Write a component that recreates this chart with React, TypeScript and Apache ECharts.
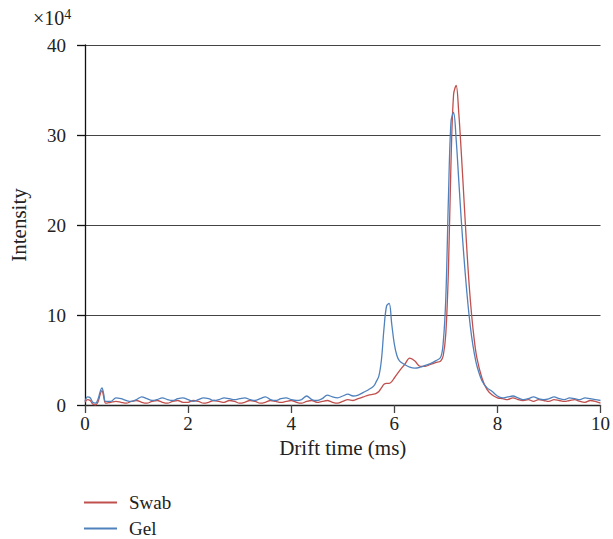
import React, { useEffect, useRef } from "react";
import * as echarts from "echarts";

const driftTime = [
  0, 0.05, 0.1, 0.15, 0.2, 0.25, 0.3, 0.33, 0.36, 0.4,
  0.5, 0.6, 0.7, 0.8, 0.9, 1.0, 1.1, 1.2, 1.3, 1.4, 1.5, 1.6, 1.7, 1.8, 1.9,
  2.0, 2.1, 2.2, 2.3, 2.4, 2.5, 2.6, 2.7, 2.8, 2.9,
  3.0, 3.1, 3.2, 3.3, 3.4, 3.5, 3.6, 3.7, 3.8, 3.9,
  4.0, 4.1, 4.2, 4.3, 4.4, 4.5, 4.6, 4.7, 4.8, 4.9,
  5.0, 5.1, 5.2, 5.3, 5.4, 5.5, 5.6, 5.65, 5.7, 5.75, 5.8, 5.85, 5.9, 5.95,
  6.0, 6.05, 6.1, 6.2, 6.3, 6.4, 6.5, 6.6, 6.7, 6.8, 6.9, 6.95,
  7.0, 7.05, 7.1, 7.15, 7.2, 7.25, 7.3, 7.35, 7.4, 7.45, 7.5, 7.55, 7.6, 7.7, 7.8, 7.9,
  8.0, 8.1, 8.2, 8.3, 8.4, 8.5, 8.6, 8.7, 8.8, 8.9,
  9.0, 9.1, 9.2, 9.3, 9.4, 9.5, 9.6, 9.7, 9.8, 9.9, 10.0,
];

// Intensity in units of 10^4
const gelValues = [
  0.4, 0.9, 0.8, 0.3, 0.2, 0.6, 1.6, 1.9, 1.3, 0.4,
  0.4, 0.8, 0.7, 0.5, 0.4, 0.6, 0.9, 0.7, 0.5, 0.6, 0.8, 0.6, 0.5, 0.7, 0.8,
  0.6, 0.4, 0.6, 0.8, 0.7, 0.5, 0.6, 0.8, 0.7, 0.6,
  0.7, 0.8, 0.6, 0.5, 0.7, 0.9, 0.6, 0.5, 0.7, 0.8,
  0.6, 0.5, 0.6, 1.0, 0.6, 0.5, 0.7, 1.1, 0.9, 0.8,
  1.0, 1.2, 1.0, 1.1, 1.4, 1.7, 2.1, 2.6, 3.2, 5.0, 8.5, 11.0, 11.3, 9.0,
  6.8, 5.5, 4.9, 4.5, 4.2, 4.1, 4.2, 4.4, 4.6, 4.9, 5.3, 7.0,
  12.0, 23.0, 31.5, 32.5, 29.5, 25.0, 20.5, 16.5, 13.0, 10.0, 7.6, 5.8, 4.4, 2.7, 1.9, 1.5,
  1.0, 0.8, 0.9, 1.0, 0.8, 0.6, 0.7, 0.9, 0.7, 0.6,
  0.7, 0.9, 0.7, 0.6, 0.8, 0.7, 0.6, 0.8, 0.7, 0.6, 0.5,
];

const swabValues = [
  0.3, 0.6, 0.5, 0.1, 0.0, 0.3, 1.3, 1.6, 1.0, 0.2,
  0.3, 0.4, 0.3, 0.2, 0.4, 0.5, 0.3, 0.2, 0.4, 0.5, 0.3, 0.2, 0.4, 0.5, 0.3,
  0.3, 0.5, 0.4, 0.2, 0.3, 0.5, 0.4, 0.3, 0.5, 0.4,
  0.2, 0.3, 0.5, 0.4, 0.2, 0.3, 0.5, 0.4, 0.3, 0.4,
  0.5, 0.3, 0.2, 0.4, 0.5, 0.3, 0.4, 0.5, 0.3, 0.2,
  0.4, 0.6, 0.5, 0.7, 0.9, 1.1, 1.2, 1.3, 1.5, 1.9, 2.3, 2.4, 2.4, 2.6,
  3.0, 3.4, 3.8, 4.5, 5.2, 4.9, 4.3, 4.3, 4.5, 4.7, 4.9, 5.5,
  8.0, 15.0, 27.0, 34.5, 35.5, 32.5, 28.0, 23.0, 18.0, 13.5, 10.0, 7.3, 5.3, 3.0, 1.7, 1.1,
  0.8, 0.7, 0.6, 0.8, 0.6, 0.5, 0.6, 0.4, 0.6, 0.5,
  0.4, 0.6, 0.5, 0.4, 0.5, 0.6, 0.4, 0.3, 0.5, 0.4, 0.2,
];

const seriesNames = ["Swab", "Gel"];
const seriesColors = ["#c0504d", "#4f81bd"];

const FONT = "Liberation Serif";

export default function App() {
  const ref = useRef<HTMLDivElement>(null);

  useEffect(() => {
    if (!ref.current) return;
    const chart = echarts.init(ref.current, null, { renderer: "svg" });
    const toPairs = (vals: number[]) => driftTime.map((t, i) => [t, vals[i]]);
    const legendCommon = {
      left: 82,
      itemWidth: 33,
      itemHeight: 2,
      icon: "rect",
      padding: 2,
      textStyle: { fontFamily: FONT, fontSize: 19, lineHeight: 17, color: "#222", padding: [0, 0, 0, 7] },
    };
    chart.setOption({
      animation: false,
      backgroundColor: "#ffffff",
      textStyle: { fontFamily: FONT },
      grid: { left: 80, right: 12, top: 45, bottom: 134, containLabel: false },
      xAxis: {
        type: "value",
        min: 0,
        max: 10,
        interval: 2,
        name: "Drift time (ms)",
        nameLocation: "middle",
        nameGap: 26,
        nameTextStyle: { fontFamily: FONT, fontSize: 21, color: "#222" },
        axisLine: { show: true, onZero: false, lineStyle: { color: "#222", width: 1.3 } },
        axisTick: { show: true, inside: false, length: 8, lineStyle: { color: "#444", width: 1.3 } },
        axisLabel: { fontFamily: FONT, fontSize: 19, color: "#222", margin: 9 },
        splitLine: { show: false },
      },
      yAxis: {
        type: "value",
        min: 0,
        max: 40,
        interval: 10,
        name: "Intensity",
        nameLocation: "middle",
        nameGap: 56,
        nameRotate: 90,
        nameTextStyle: { fontFamily: FONT, fontSize: 21, color: "#222" },
        axisLine: { show: true, lineStyle: { color: "#111", width: 1.3 } },
        axisTick: { show: true, inside: false, length: 8, lineStyle: { color: "#111", width: 1.3 } },
        axisLabel: { fontFamily: FONT, fontSize: 19, color: "#222", margin: 19 },
        splitLine: { show: true, lineStyle: { color: "#444", width: 1.2 } },
      },
      legend: [
        { ...legendCommon, top: 491, data: [seriesNames[0]] },
        { ...legendCommon, top: 517, data: [seriesNames[1]] },
      ],
      graphic: [
        {
          type: "text",
          left: 33,
          top: 7,
          style: {
            text: "{base|×10}{sup|4}",
            rich: {
              base: { fontFamily: FONT, fontSize: 20, fill: "#222" },
              sup: { fontFamily: FONT, fontSize: 14, fill: "#222", verticalAlign: "top", padding: [0, 0, 8, 0] },
            },
          },
        },
      ],
      series: [
        {
          name: seriesNames[0],
          type: "line",
          data: toPairs(swabValues),
          smooth: 0.35,
          symbol: "none",
          lineStyle: { color: seriesColors[0], width: 1.3 },
          itemStyle: { color: seriesColors[0] },
        },
        {
          name: seriesNames[1],
          type: "line",
          data: toPairs(gelValues),
          smooth: 0.35,
          symbol: "none",
          lineStyle: { color: seriesColors[1], width: 1.3 },
          itemStyle: { color: seriesColors[1] },
        },
      ],
    });
    return () => chart.dispose();
  }, []);

  return (
    <div
      ref={ref}
      style={{ position: "fixed", left: 0, top: 0, width: 613, height: 539 }}
    />
  );
}
